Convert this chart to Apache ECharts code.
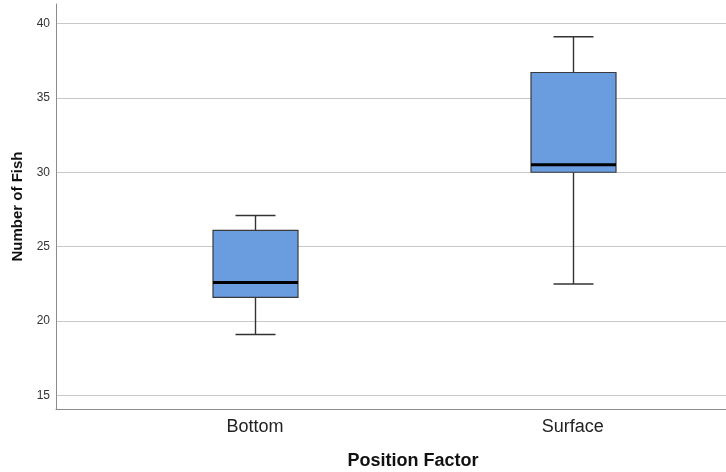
<!DOCTYPE html>
<html>
<head>
<meta charset="utf-8">
<style>
  html, body { margin: 0; padding: 0; background: #fff; }
  #chart-container { width: 726px; height: 472px; }
</style>
<script src="https://cdn.jsdelivr.net/npm/echarts@6/dist/echarts.min.js"></script>
</head>
<body>
<div id="chart-container"></div>
<script>
// box plot data
var categories = ['Bottom', 'Surface'];
var xPositions = [1, 2];
var minValues = [19.1, 22.5];
var q1Values = [21.6, 30.0];
var medianValues = [22.6, 30.5];
var q3Values = [26.1, 36.7];
var maxValues = [27.1, 39.1];
var yTicks = [15, 20, 25, 30, 35, 40];

var boxData = [];
for (var i = 0; i < categories.length; i++) {
    boxData.push([xPositions[i], minValues[i], q1Values[i], medianValues[i], q3Values[i], maxValues[i]]);
}

var renderBox = function (params, api) {
    var x = api.value(0);
    var pMin = api.coord([x, api.value(1)]);
    var pQ1 = api.coord([x, api.value(2)]);
    var pMed = api.coord([x, api.value(3)]);
    var pQ3 = api.coord([x, api.value(4)]);
    var pMax = api.coord([x, api.value(5)]);
    var cx = Math.round(pMin[0]) + 0.5;
    var halfBox = 42.5;
    var halfCap = 20;
    var lineStyle = { stroke: '#333', lineWidth: 1.4 };
    return {
        type: 'group',
        children: [
            // whiskers
            { type: 'line', shape: { x1: cx, y1: pMax[1], x2: cx, y2: pQ3[1] }, style: lineStyle },
            { type: 'line', shape: { x1: cx, y1: pQ1[1], x2: cx, y2: pMin[1] }, style: lineStyle },
            { type: 'line', shape: { x1: cx - halfCap, y1: pMax[1], x2: cx + halfCap, y2: pMax[1] }, style: lineStyle },
            { type: 'line', shape: { x1: cx - halfCap, y1: pMin[1], x2: cx + halfCap, y2: pMin[1] }, style: lineStyle },
            // box
            {
                type: 'rect',
                shape: { x: cx - halfBox, y: pQ3[1], width: halfBox * 2, height: pQ1[1] - pQ3[1] },
                style: { fill: '#6a9de0', stroke: '#3a3a3a', lineWidth: 1.2 }
            },
            // median
            {
                type: 'line',
                shape: { x1: cx - halfBox, y1: pMed[1], x2: cx + halfBox, y2: pMed[1] },
                style: { stroke: '#000', lineWidth: 3 }
            }
        ]
    };
};

var myChart = echarts.init(document.getElementById('chart-container'));
var option = {
    animation: false,
    grid: { left: 56, right: 0, top: 4, bottom: 63, outerBoundsMode: 'none', containLabel: false },
    xAxis: {
        type: 'value',
        min: 0.374,
        max: 2.482,
        name: 'Position Factor',
        nameLocation: 'middle',
        nameGap: 43,
        nameTextStyle: {
            fontFamily: 'Liberation Sans',
            fontWeight: 'bold',
            fontSize: 18,
            color: '#111',
            padding: [0, 0, 0, 44]
        },
        axisLine: { lineStyle: { color: '#8c8c8c', width: 1 } },
        axisTick: { show: false },
        splitLine: { show: false },
        axisLabel: {
            customValues: xPositions,
            margin: 9,
            fontFamily: 'Liberation Sans',
            fontSize: 18,
            color: '#222',
            formatter: function (v) {
                var idx = xPositions.indexOf(v);
                return idx >= 0 ? categories[idx] : '';
            }
        }
    },
    yAxis: {
        type: 'value',
        min: 14.1,
        max: 41.3,
        name: 'Number of Fish',
        nameLocation: 'middle',
        nameGap: 24,
        nameTextStyle: {
            fontFamily: 'Liberation Sans',
            fontWeight: 'bold',
            fontSize: 15,
            color: '#111'
        },
        axisLine: { show: true, lineStyle: { color: '#8c8c8c', width: 1 } },
        axisTick: { show: false },
        axisLabel: {
            customValues: yTicks,
            margin: 6,
            fontFamily: 'Liberation Sans',
            fontSize: 12,
            color: '#333'
        },
        splitLine: {
            show: true,
            showMinLine: false,
            showMaxLine: false,
            lineStyle: { color: '#c8c8c8', width: 1 }
        }
    },
    series: [{
        type: 'custom',
        renderItem: renderBox,
        encode: { x: 0, y: [1, 2, 3, 4, 5] },
        data: boxData
    }]
};
myChart.setOption(option);
</script>
</body>
</html>
